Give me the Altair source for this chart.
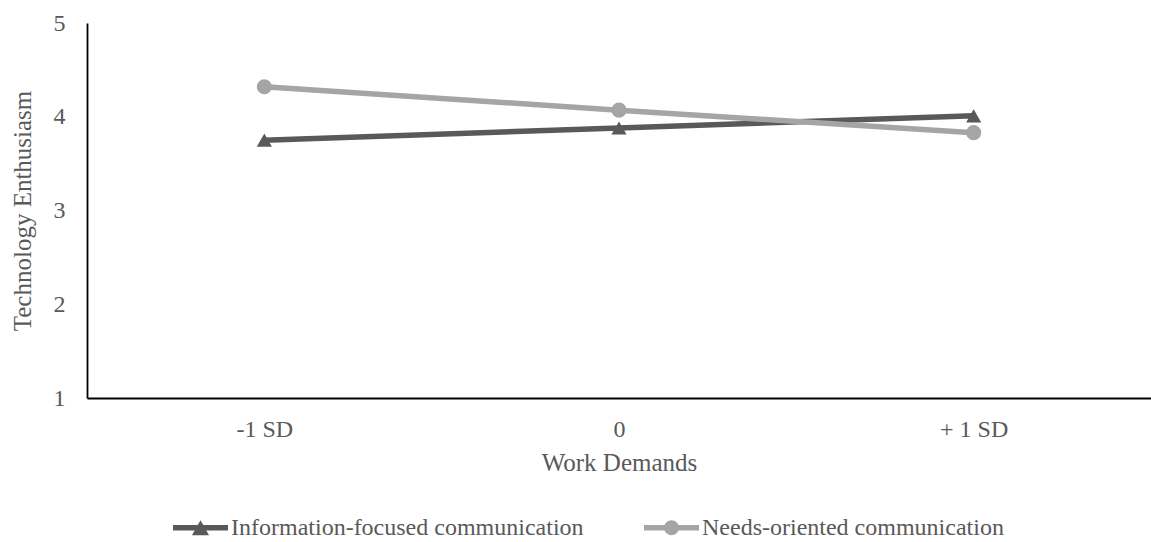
import altair as alt
import pandas as pd

categories = ["-1 SD", "0", "+ 1 SD"]
series_names = ["Information-focused communication", "Needs-oriented communication"]
info_values = [3.75, 3.88, 4.01]
needs_values = [4.32, 4.07, 3.83]
y_ticks = [1, 2, 3, 4, 5]
colors = ["#595959", "#A5A5A5"]
marker_shapes = ["triangle-up", "circle"]

rows = []
for c, v in zip(categories, info_values):
    rows.append({"demand": c, "value": v, "series": series_names[0]})
for c, v in zip(categories, needs_values):
    rows.append({"demand": c, "value": v, "series": series_names[1]})
df = pd.DataFrame(rows)

FONT = "Liberation Serif"
TXT = "#595959"

tri_path = "M-1,-0.1L1,-0.1L1,0.1L-1,0.1Z M-0.31,0.27L0,-0.27L0.31,0.27Z"
circ_path = "M-1,-0.1L1,-0.1L1,0.1L-1,0.1Z M-0.27,0 A0.27,0.27 0 1,1 0.27,0 A0.27,0.27 0 1,1 -0.27,0Z"

x_enc = alt.X(
    "demand:N",
    sort=categories,
    scale=alt.Scale(type="point", domain=categories, padding=0.5),
    axis=alt.Axis(
        title="Work Demands",
        labelAngle=0,
        ticks=False,
        grid=False,
        domainColor="#000000",
        domainWidth=1.8,
        labelPadding=19,
        titlePadding=9,
    ),
)
y_enc = alt.Y(
    "value:Q",
    scale=alt.Scale(domain=[1, 5], nice=False, zero=False),
    axis=alt.Axis(
        title="Technology Enthusiasm",
        values=y_ticks,
        format="d",
        ticks=False,
        grid=False,
        domainColor="#000000",
        domainWidth=1.8,
        labelPadding=22,
        titlePadding=18,
    ),
)

legend_spec = alt.Legend(
    title=None,
    orient="none",
    legendX=86,
    legendY=477,
    direction="horizontal",
    labelFont=FONT,
    labelFontSize=24,
    labelColor=TXT,
    labelLimit=1000,
    symbolSize=3025,
    symbolStrokeWidth=0,
    labelOffset=3,
    columnPadding=60,
)

base = alt.Chart(df)

legend_layer = base.transform_filter("false").mark_point(
    filled=True, size=3025, opacity=1
).encode(
    x=x_enc, y=y_enc,
    color=alt.Color("series:N", scale=alt.Scale(domain=series_names, range=colors), legend=legend_spec),
    shape=alt.Shape(
        "series:N",
        scale=alt.Scale(domain=series_names, range=[tri_path, circ_path]),
        legend=legend_spec,
    ),
)

layers = [legend_layer]
for name, col, shp in zip(series_names, colors, marker_shapes):
    sub = base.transform_filter(alt.datum.series == name)
    layers.append(
        sub.mark_line(strokeWidth=5.5, color=col).encode(x=x_enc, y=y_enc)
    )
for name, col, shp in zip(series_names, colors, marker_shapes):
    sub = base.transform_filter(alt.datum.series == name)
    layers.append(
        sub.mark_point(shape=shp, filled=True, size=230, opacity=1, color=col).encode(x=x_enc, y=y_enc)
    )

chart = alt.layer(*layers).properties(
    width=1064,
    height=375,
    autosize=alt.AutoSizeParams(type="none"),
    padding={"left": 87, "top": 23, "right": 0, "bottom": 144},
).configure_view(stroke=None).configure_axis(
    labelFont=FONT,
    labelFontSize=24,
    labelColor=TXT,
    titleFont=FONT,
    titleFontSize=25,
    titleColor=TXT,
    titleFontWeight="normal",
)

chart.save("out.html", embed_options={"renderer": "svg", "actions": False})
